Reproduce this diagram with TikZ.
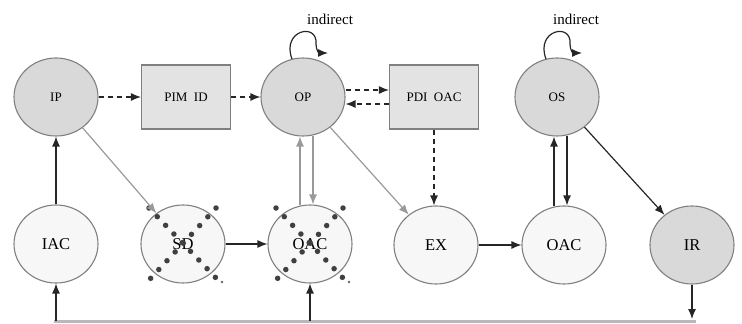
\documentclass[tikz,border=0pt]{standalone}
\usepackage{fontspec}
\setmainfont{Liberation Serif}
\usetikzlibrary{shapes.geometric,arrows.meta,calc}
\begin{document}
\begin{tikzpicture}[x=1pt,y=-1pt,
  state/.style={ellipse,draw=black!50,line width=1.1pt,minimum width=84pt,minimum height=78pt,inner sep=0pt},
  dark/.style={state,fill=black!15},
  light/.style={state,fill=black!3},
  box/.style={rectangle,draw=black!50,line width=1.1pt,fill=black!11,minimum width=89pt,minimum height=64pt},
  small/.style={font=\fontsize{13}{13}\selectfont},
  big/.style={font=\fontsize{16.5}{16.5}\selectfont},
  tip/.style={-{Latex[length=10pt,width=8pt]}},
  arr/.style={tip,line width=1.2pt,draw=black!85},
  garr/.style={tip,line width=1.2pt,draw=black!40},
  darr/.style={arr,dash pattern=on 5pt off 4pt},
  cross/.style={draw=black!75,line width=5.5pt,line cap=round,dash pattern=on 0pt off 12pt},
]
\useasboundingbox (0,0) rectangle (742,324);

% upper row
\node[dark,small] (ip) at (56,97) {IP};
\node[box,small] (pim) at (186,97) {PIM\enspace ID};
\node[dark,small] (op) at (303,97) {OP};
\node[box,small] (pdi) at (434,97) {PDI\enspace OAC};
\node[dark,small] (os) at (557,97) {OS};
\node[font=\fontsize{15}{15}\selectfont] (ind1) at (330,19) {indirect};
\node[font=\fontsize{15}{15}\selectfont] (ind2) at (576,19) {indirect};

% lower row
\node[light,big] (iac) at (56,244) {IAC};
\node[light,big] (sd) at (183,244) {SD};
\node[light,big] (oacx) at (310,244) {OAC};
\node[light,big] (ex) at (436,245) {EX};
\node[light,big] (oac) at (564,245) {OAC};
\node[dark,big] (ir) at (692,245) {IR};

% crossed-out states
\foreach \n in {sd,oacx}{
  \draw[cross] ($(\n)+(-34,-36)$) -- ($(\n)+(34,35)$);
  \draw[cross] ($(\n)+(33,-36)$) -- ($(\n)+(-33,35)$);
  \fill[black!60] ($(\n)+(39,38)$) circle (1.3pt);
}

% self loops
\foreach \n in {op,os}{
  \begin{scope}[shift={(\n)}]
    \draw[arr] (-11,-38) .. controls (-22,-67) and (15,-75) .. (13,-53)
               .. controls (13,-47) and (16,-44) .. (25,-44);
  \end{scope}
}

% dashed flows
\draw[darr] (ip) -- (pim);
\draw[darr] (pim) -- (op);
\draw[darr] ($(op.east)+(0,-7)$) -- ($(pdi.west)+(0,-7)$);
\draw[darr] ($(pdi.west)+(0,7)$) -- ($(op.east)+(0,7)$);
\draw[darr] (pdi.south) -- (pdi.south |- ex.north);

% solid flows
\draw[arr] (iac) -- (ip);
\draw[garr] (ip) -- (sd);
\draw[arr] (sd) -- (oacx);
\draw[garr] ($(oacx.north)+(-10,1)$) -- ($(op.south)+(-3,0)$);
\draw[garr] ($(op.south)+(10,-1)$) -- ($(oacx.north)+(3,0)$);
\draw[garr] (op) -- (ex);
\draw[arr] (ex) -- (oac);
\draw[arr] ($(oac.north)+(-10,1)$) -- ($(os.south)+(-3,0)$);
\draw[arr] ($(os.south)+(10,-1)$) -- ($(oac.north)+(3,0)$);
\draw[arr] (os) -- (ir);

% feedback bus
\coordinate (bl) at (54,321);
\coordinate (br) at (696,321);
\draw[black!28,line width=3pt] (bl) -- (br);
\draw[arr] (iac.south |- bl) -- (iac.south);
\draw[arr] (oacx.south |- bl) -- (oacx.south);
\draw[arr] (ir.south) -- ($(ir.south |- bl)+(0,-2)$);
\end{tikzpicture}
\end{document}
